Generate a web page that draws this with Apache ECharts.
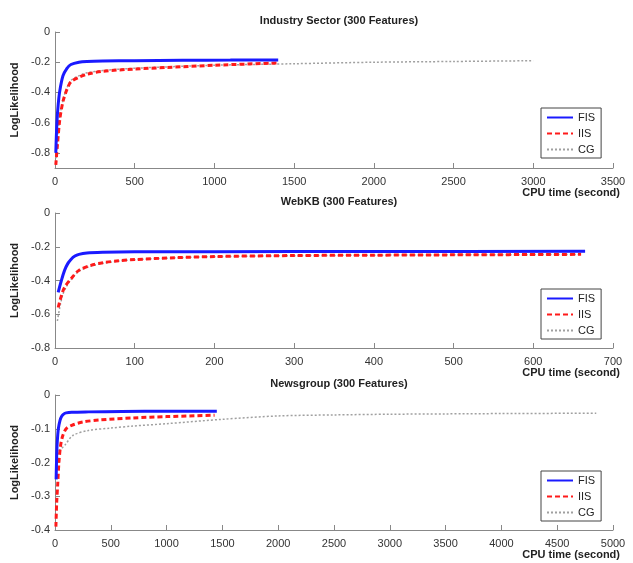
<!DOCTYPE html>
<html><head><meta charset="utf-8">
<script src="https://cdn.jsdelivr.net/npm/echarts@6/dist/echarts.min.js"></script>
<style>html,body{margin:0;padding:0;background:#fff}#c{width:633px;height:563px}</style>
</head><body><div id="c"></div>
<script>
const titles = ['Industry Sector (300 Features)', 'WebKB (300 Features)', 'Newsgroup (300 Features)'];
const seriesNames = ['FIS', 'IIS', 'CG'];
const xMax = [3500, 700, 5000];
const xInterval = [500, 100, 500];
const yMin = [-0.9, -0.8, -0.4];
const yTicks = [[0, -0.2, -0.4, -0.6, -0.8], [0, -0.2, -0.4, -0.6, -0.8], [0, -0.1, -0.2, -0.3, -0.4]];

// Industry Sector
const industryFIS = [[5,-0.8],[12,-0.6],[20,-0.48],[30,-0.39],[50,-0.29],[75,-0.24],[100,-0.215],[150,-0.2],[200,-0.195],[300,-0.192],[500,-0.19],[800,-0.187],[1100,-0.186],[1400,-0.185]];
const industryIIS = [[5,-0.88],[15,-0.75],[30,-0.58],[50,-0.46],[75,-0.38],[100,-0.33],[150,-0.3],[200,-0.28],[300,-0.26],[500,-0.245],[700,-0.235],[1000,-0.22],[1400,-0.205]];
const industryCG = [[5,-0.86],[15,-0.72],[30,-0.56],[50,-0.45],[75,-0.37],[100,-0.32],[150,-0.29],[200,-0.27],[300,-0.255],[500,-0.24],[1000,-0.22],[1500,-0.21],[2000,-0.2],[2500,-0.195],[3000,-0.19]];
// WebKB
const webkbFIS = [[4,-0.47],[8,-0.4],[12,-0.34],[16,-0.3],[20,-0.275],[25,-0.255],[30,-0.245],[40,-0.237],[60,-0.233],[100,-0.23],[200,-0.229],[400,-0.228],[665,-0.227]];
const webkbIIS = [[4,-0.56],[8,-0.49],[12,-0.44],[20,-0.39],[30,-0.34],[45,-0.31],[60,-0.295],[80,-0.283],[100,-0.276],[150,-0.265],[200,-0.258],[300,-0.252],[400,-0.25],[500,-0.248],[660,-0.245]];
const webkbCG = [[3,-0.64],[6,-0.56],[10,-0.48],[15,-0.43],[20,-0.395],[30,-0.345],[45,-0.315],[60,-0.298],[80,-0.285],[100,-0.277],[150,-0.266],[200,-0.259],[300,-0.253],[400,-0.25],[500,-0.248],[660,-0.246]];
// Newsgroup
const newsFIS = [[10,-0.25],[15,-0.18],[20,-0.14],[30,-0.1],[45,-0.075],[60,-0.063],[80,-0.056],[100,-0.053],[150,-0.051],[300,-0.05],[600,-0.049],[1000,-0.048],[1450,-0.048]];
const newsIIS = [[8,-0.39],[15,-0.32],[25,-0.26],[35,-0.2],[50,-0.15],[70,-0.12],[100,-0.1],[150,-0.09],[250,-0.08],[400,-0.074],[700,-0.068],[1000,-0.064],[1430,-0.06]];
const newsCG = [[15,-0.2],[30,-0.168],[60,-0.158],[90,-0.148],[160,-0.12],[300,-0.105],[500,-0.098],[700,-0.092],[1000,-0.085],[1500,-0.072],[2000,-0.062],[2500,-0.059],[3000,-0.057],[3500,-0.056],[4000,-0.055],[4850,-0.054]];

const panelData = [[industryFIS, industryIIS, industryCG],[webkbFIS, webkbIIS, webkbCG],[newsFIS, newsIIS, newsCG]];

const gridTops = [32, 213, 395];
const gridH = [136, 135, 135];
const FONT = 'Liberation Sans, Arial, sans-serif';
const styles = [
  {color:'#1a1aff', width:3, type:'solid'},
  {color:'#ff1a1a', width:3, type:[5,3]},
  {color:'#a0a0a0', width:1.5, type:[2,2]}
];

const option = {
  animation:false,
  backgroundColor:'#fff',
  title: titles.map((t,i)=>({text:t, left:334, textAlign:'center', top:gridTops[i]-22,
    textStyle:{fontFamily:FONT,fontSize:11,fontWeight:'bold',color:'#222'}})),
  grid: gridTops.map((t,i)=>({left:55, top:t, width:558, height:gridH[i]})),
  xAxis: xMax.map((m,i)=>({type:'value', gridIndex:i, min:0, max:m, interval:xInterval[i],
    name:'CPU time (second)', nameLocation:'end', nameGap:7,
    nameTextStyle:{fontFamily:FONT,fontSize:11,fontWeight:'bold',color:'#222',align:'right',verticalAlign:'top',padding:[19,0,0,0]},
    axisLine:{onZero:false,lineStyle:{color:'#888',width:1}},
    axisTick:{inside:true,length:5,lineStyle:{color:'#888'}},
    axisLabel:{fontFamily:FONT,fontSize:11,color:'#333',margin:8,formatter:v=>String(v)},
    splitLine:{show:false}})),
  yAxis: yMin.map((m,i)=>({type:'value', gridIndex:i, min:m, max:0,
    name:'LogLikelihood', nameLocation:'middle', nameRotate:90, nameGap:26,
    nameTextStyle:{fontFamily:FONT,fontSize:11,fontWeight:'bold',color:'#222'},
    axisLine:{show:true,onZero:false,lineStyle:{color:'#888',width:1}},
    axisTick:{show:true,inside:true,length:5,customValues:yTicks[i],lineStyle:{color:'#888'}},
    axisLabel:{fontFamily:FONT,fontSize:11,color:'#333',margin:5,customValues:yTicks[i]},
    splitLine:{show:false}})),
  legend: gridTops.map((t,i)=>({orient:'vertical', left:541, top:t+76, data:seriesNames,
    itemWidth:26, itemHeight:12, itemGap:5, padding:[4,6,3,5],
    borderColor:'#444', borderWidth:1, backgroundColor:'#fff',
    itemStyle:{opacity:0},
    textStyle:{fontFamily:FONT,fontSize:11,color:'#222'}})),
  series: []
};
panelData.forEach((arr,i)=>{
  arr.forEach((d,j)=>{
    option.series.push({type:'line', name:seriesNames[j], xAxisIndex:i, yAxisIndex:i,
      data:d, symbol:'none', smooth:0.3, lineStyle:styles[j], itemStyle:{color:styles[j].color},
      z: 3-j});
  });
});
echarts.init(document.getElementById('c')).setOption(option);
</script></body></html>
